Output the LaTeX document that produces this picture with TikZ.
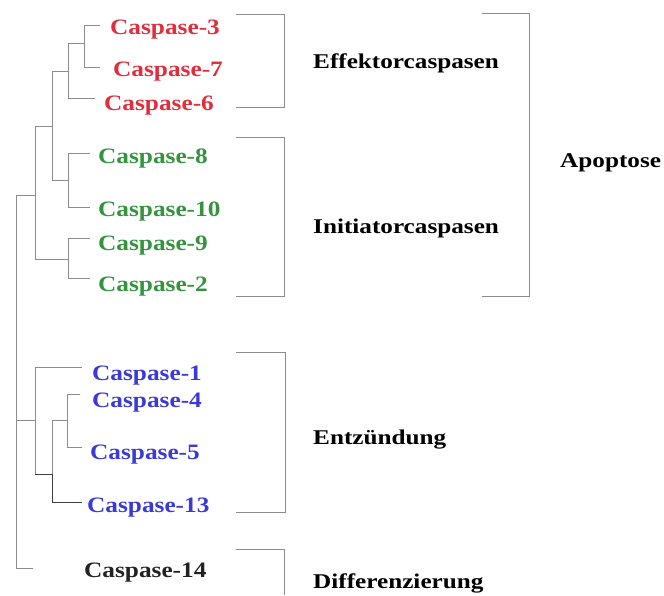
\documentclass[tikz,border=0pt]{standalone}
\usepackage{fontspec}
\setmainfont{Liberation Serif}
\newfontfamily\casfont[FakeStretch=1.15]{Liberation Serif}
\newfontfamily\grpfont[FakeStretch=1.2]{Liberation Serif}
\usepackage{xcolor}
\definecolor{effred}{RGB}{226,46,60}
\definecolor{inigreen}{RGB}{52,148,62}
\definecolor{infblue}{RGB}{58,58,214}
\definecolor{difblack}{RGB}{34,34,34}
\definecolor{treegray}{RGB}{140,140,140}

\begin{document}
\begin{tikzpicture}[x=1pt,y=-1pt,
                    my tree/.style={draw=treegray,line width=0.9pt},
                    my dark tree/.style={my tree,draw=black!75},
                    my bracket/.style={draw=treegray,line width=0.9pt},
                    my leaf/.style={anchor=base west,inner sep=0pt,font=\casfont\bfseries\fontsize{22}{24}\selectfont},
                    my group/.style={anchor=west,inner sep=0pt,font=\grpfont\bfseries\fontsize{21}{24}\selectfont,text=black}]
\useasboundingbox (0,0) rectangle (664,595);
% leaf labels
\node[my leaf,text=effred] (c3) at (110,34) {Caspase-3};
\node[my leaf,text=effred] (c7) at (113,76) {Caspase-7};
\node[my leaf,text=effred] (c6) at (104,110) {Caspase-6};
\node[my leaf,text=inigreen] (c8) at (98,163) {Caspase-8};
\node[my leaf,text=inigreen] (c10) at (98,216) {Caspase-10};
\node[my leaf,text=inigreen] (c9) at (98,250) {Caspase-9};
\node[my leaf,text=inigreen] (c2) at (98,291) {Caspase-2};
\node[my leaf,text=infblue] (c1) at (92,380) {Caspase-1};
\node[my leaf,text=infblue] (c4) at (92,407) {Caspase-4};
\node[my leaf,text=infblue] (c5) at (90,459) {Caspase-5};
\node[my leaf,text=infblue] (c13) at (87,512) {Caspase-13};
\node[my leaf,text=difblack] (c14) at (84,577) {Caspase-14};
% leaf tips
\coordinate (t3) at (100,25);
\coordinate (t7) at (100,67);
\coordinate (t6) at (95,98);
\coordinate (t8) at (90,153);
\coordinate (t10) at (90,207);
\coordinate (t9) at (90,238);
\coordinate (t2) at (90,278);
\coordinate (t1) at (82,367);
\coordinate (t4) at (80,394);
\coordinate (t5) at (82,447);
\coordinate (t13) at (82,502);
\coordinate (t14) at (33,568);
% inner nodes (x of the stem, y where the parent joins)
\coordinate (n37) at (84,43);
\coordinate (n376) at (68,71);
\coordinate (n810) at (68,180);
\coordinate (neff) at (52,126);
\coordinate (n92) at (68,259);
\coordinate (napo) at (35,195);
\coordinate (n45) at (67,420);
\coordinate (n4513) at (52,474);
\coordinate (ninf) at (35,420);
\coordinate (root) at (16,380);
% the tree
\draw[my tree] (n37) |- (t3) (n37) |- (t7);
\draw[my tree] (n376) |- (n37) (n376) |- (t6);
\draw[my tree] (n810) |- (t8) (n810) |- (t10);
\draw[my tree] (neff) |- (n376) (neff) |- (n810);
\draw[my tree] (n92) |- (t9) (n92) |- (t2);
\draw[my tree] (napo) |- (neff) (napo) |- (n92);
\draw[my tree] (n45) |- (t4) (n45) |- (t5);
\draw[my tree] (n4513) |- (n45);
\draw[my dark tree] (n4513) |- (t13);
\draw[my tree] (ninf) |- (t1) (ninf) |- (n4513);
\draw[my dark tree] (ninf |- n4513) -- (n4513);
\draw[my tree] (root) |- (napo) (root) |- (ninf) (root) |- (t14);
% brackets
\coordinate (eff top) at (236,14); \coordinate (eff bot) at (236,107);
\coordinate (ini top) at (236,137); \coordinate (ini bot) at (236,296);
\coordinate (apo top) at (482,13); \coordinate (apo bot) at (482,296);
\coordinate (inf top) at (236,352); \coordinate (inf bot) at (236,512);
\coordinate (dif top) at (236,549); \coordinate (dif bot) at (284,595);
\draw[my bracket] (eff top) -- ++(48,0) |- (eff bot);
\draw[my bracket] (ini top) -- ++(48,0) |- (ini bot);
\draw[my bracket] (apo top) -- ++(47,0) |- (apo bot);
\draw[my bracket] (inf top) -- ++(49,0) |- (inf bot);
\draw[my bracket] (dif top) -| (dif bot);
% group labels
\node[my group] (eff) at (313,63) {Effektorcaspasen};
\node[my group] (ini) at (313,228) {Initiatorcaspasen};
\node[my group] (apo) at (560,163) {Apoptose};
\node[my group] (inf) at (313,440) {Entzündung};
\node[my group] (dif) at (313,583) {Differenzierung};
\end{tikzpicture}
\end{document}
